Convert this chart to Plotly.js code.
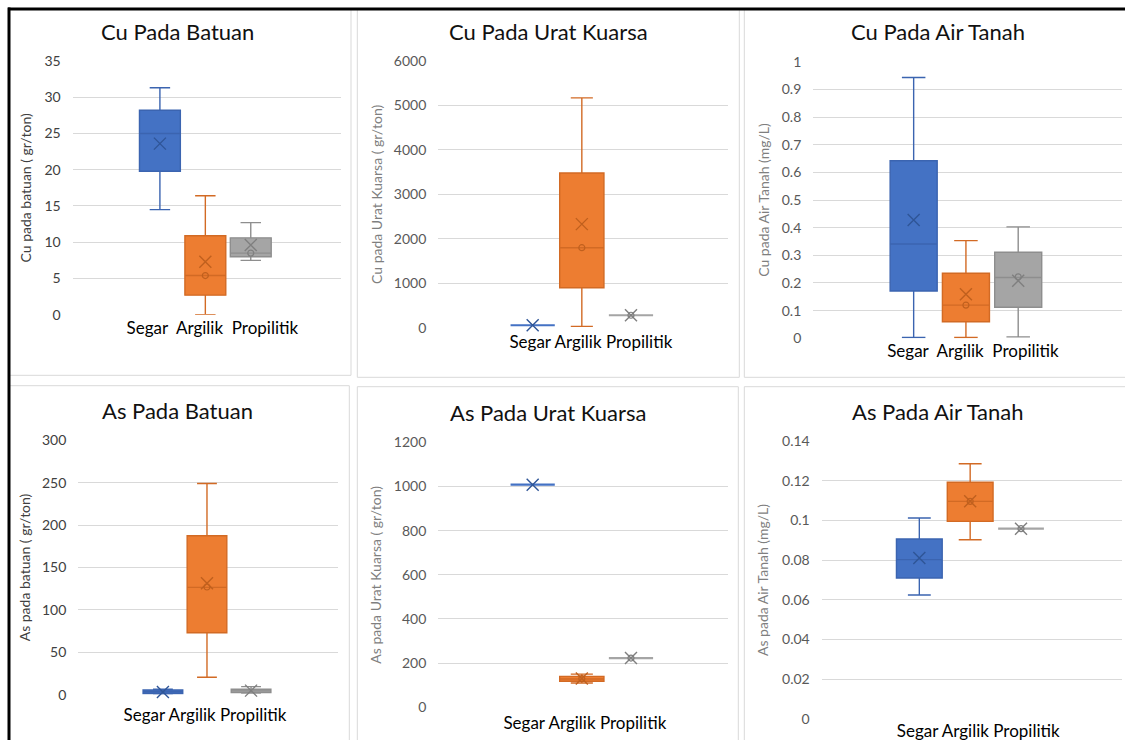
<!DOCTYPE html>
<html>
<head>
<meta charset="utf-8">
<script src="https://cdn.plot.ly/plotly-3.0.1.min.js"></script>
<style>
html, body { margin: 0; padding: 0; background: #ffffff; }
#chart { width: 1125px; height: 740px; }
</style>
</head>
<body>
<div id="chart"></div>
<script>
// ---------------- DATA ----------------
const categories = ['Segar', 'Argilik', 'Propilitik'];

const panelTitles = ['Cu Pada Batuan', 'Cu Pada Urat Kuarsa', 'Cu Pada Air Tanah',
                     'As Pada Batuan', 'As Pada Urat Kuarsa', 'As Pada Air Tanah'];
const yAxisTitles = ['Cu pada batuan ( gr/ton)', 'Cu pada Urat Kuarsa ( gr/ton)', 'Cu pada Air Tanah (mg/L)',
                     'As pada batuan ( gr/ton)', 'As pada Urat Kuarsa ( gr/ton)', 'As pada Air Tanah (mg/L)'];
const xTickLabels = ['Segar\u00a0\u00a0Argilik\u00a0\u00a0Propilitik', 'Segar Argilik Propilitik',
                     'Segar\u00a0\u00a0Argilik\u00a0\u00a0Propilitik', 'Segar Argilik Propilitik',
                     'Segar Argilik Propilitik', 'Segar Argilik Propilitik'];

// Cu Pada Batuan (gr/ton)
const cuBatuanLower  = [14.5, 0.0, 7.5];
const cuBatuanQ1     = [19.8, 2.7, 8.0];
const cuBatuanMedian = [25.0, 5.4, 8.5];
const cuBatuanQ3     = [28.2, 10.9, 10.6];
const cuBatuanUpper  = [31.3, 16.4, 12.7];
const cuBatuanMean   = [23.6, 7.3, 9.6];
const cuBatuanPoints = [null, 5.4, 8.5];

// Cu Pada Urat Kuarsa (gr/ton)
const cuUratLower  = [55, 30, 280];
const cuUratQ1     = [55, 900, 280];
const cuUratMedian = [55, 1800, 280];
const cuUratQ3     = [55, 3480, 280];
const cuUratUpper  = [55, 5170, 280];
const cuUratMean   = [55, 2330, 280];
const cuUratPoints = [null, 1800, 280];

// Cu Pada Air Tanah (mg/L)
const cuAirLower  = [0.003, 0.003, 0.005];
const cuAirQ1     = [0.171, 0.060, 0.112];
const cuAirMedian = [0.341, 0.120, 0.220];
const cuAirQ3     = [0.642, 0.235, 0.311];
const cuAirUpper  = [0.943, 0.353, 0.403];
const cuAirMean   = [0.428, 0.159, 0.208];
const cuAirPoints = [null, 0.120, 0.222];

// As Pada Batuan (gr/ton)
const asBatuanLower  = [1.0, 20.5, 2.0];
const asBatuanQ1     = [1.5, 73.0, 2.5];
const asBatuanMedian = [3.5, 126.6, 4.5];
const asBatuanQ3     = [5.5, 187.5, 6.5];
const asBatuanUpper  = [6.5, 249.0, 9.5];
const asBatuanMean   = [3.3, 131.5, 4.8];
const asBatuanPoints = [null, 127.0, null];

// As Pada Urat Kuarsa (gr/ton)
const asUratLower  = [1008, 110, 223];
const asUratQ1     = [1008, 118, 223];
const asUratMedian = [1008, 128, 223];
const asUratQ3     = [1008, 140, 223];
const asUratUpper  = [1008, 150, 223];
const asUratMean   = [1008, 130, 223];
const asUratPoints = [null, 130, 223];

// As Pada Air Tanah (mg/L)
const asAirLower  = [0.0624, 0.0903, 0.0959];
const asAirQ1     = [0.0710, 0.0996, 0.0959];
const asAirMedian = [0.0803, 0.1097, 0.0959];
const asAirQ3     = [0.0907, 0.1193, 0.0959];
const asAirUpper  = [0.1013, 0.1287, 0.0959];
const asAirMean   = [0.0811, 0.1097, 0.0959];
const asAirPoints = [null, 0.1097, 0.0959];

const yRanges = [[0, 35], [0, 6000], [0, 1], [0, 300], [0, 1200], [0, 0.14]];
const yDticks = [5, 1000, 0.1, 50, 200, 0.02];

// ---------------- STYLE / LAYOUT ----------------
const FONT = 'Lato, "Open Sans", sans-serif';
const fillColors = ['#4472C4', '#ED7D31', '#A5A5A5'];
const lineColors = ['#3B64B0', '#D26A24', '#8E8E8E'];
const markColors = ['#2F5597', '#C0601E', '#7F7F7F'];

const W = 1125, H = 740;
const fx = p => p / W;
const fy = p => 1 - p / H;

// pixel geometry of each panel (plot area, title, frame)
const geo = [
  { pl: 72.7, pr: 340.7, pt: 61.0, pb: 314.7, tx: 178, ty: 31.5, frame: [9, 9, 351, 375.3], tickCol: '#404040', ytCol: '#404040', shift: 7, stand: 1, ysf: 9 },
  { pl: 438.3, pr: 728.3, pt: 61.0, pb: 327.7, tx: 548, ty: 31.5, frame: [357.3, 9, 739.3, 377.3], tickCol: '#595959', ytCol: '#7F7F7F', shift: 9, stand: 2, ysf: 7 },
  { pl: 813.3, pr: 1121.7, pt: 61.7, pb: 338.3, tx: 938, ty: 31.5, frame: [744.3, 9, 1135, 377.3], tickCol: '#595959', ytCol: '#7F7F7F', shift: 7, stand: 1, ysf: 8 },
  { pl: 78.3, pr: 338.3, pt: 440.3, pb: 694.7, tx: 177, ty: 410, frame: [9, 385.7, 349.3, 750], tickCol: '#404040', ytCol: '#404040', shift: -2, stand: 8, ysf: 8 },
  { pl: 438.3, pr: 728.3, pt: 442.3, pb: 707.3, tx: 548, ty: 412.5, frame: [357.3, 386.7, 738.3, 750], tickCol: '#595959', ytCol: '#7F7F7F', shift: 3, stand: 4, ysf: 8 },
  { pl: 821.7, pr: 1121.7, pt: 441.3, pb: 718.7, tx: 938, ty: 411.5, frame: [744.3, 386.7, 1135, 750], tickCol: '#595959', ytCol: '#7F7F7F', shift: 8, stand: 0, ysf: 10 }
];

const stats = [
  [cuBatuanLower, cuBatuanQ1, cuBatuanMedian, cuBatuanQ3, cuBatuanUpper, cuBatuanMean, cuBatuanPoints],
  [cuUratLower, cuUratQ1, cuUratMedian, cuUratQ3, cuUratUpper, cuUratMean, cuUratPoints],
  [cuAirLower, cuAirQ1, cuAirMedian, cuAirQ3, cuAirUpper, cuAirMean, cuAirPoints],
  [asBatuanLower, asBatuanQ1, asBatuanMedian, asBatuanQ3, asBatuanUpper, asBatuanMean, asBatuanPoints],
  [asUratLower, asUratQ1, asUratMedian, asUratQ3, asUratUpper, asUratMean, asUratPoints],
  [asAirLower, asAirQ1, asAirMedian, asAirQ3, asAirUpper, asAirMean, asAirPoints]
];

const traces = [];
const layout = {
  width: W, height: H,
  margin: { l: 0, r: 0, t: 0, b: 0 },
  paper_bgcolor: '#ffffff',
  plot_bgcolor: '#ffffff',
  showlegend: false,
  boxmode: 'overlay',
  boxgap: 0.1,
  boxgroupgap: 0,
  font: { family: FONT },
  annotations: [],
  shapes: []
};

geo.forEach((g, i) => {
  const s = i === 0 ? '' : String(i + 1);
  const [lo, q1, med, q3, up, mean, pts] = stats[i];
  categories.forEach((c, j) => {
    const flat = q1[j] === q3[j];
    traces.push({
      type: 'box', name: c,
      x: [c], lowerfence: [lo[j]], q1: [q1[j]], median: [med[j]], q3: [q3[j]], upperfence: [up[j]],
      boxpoints: false, width: 0.9, whiskerwidth: 0.5,
      fillcolor: fillColors[j], line: { color: flat ? fillColors[j] : lineColors[j], width: flat ? 2.2 : 1.4 },
      xaxis: 'x' + s, yaxis: 'y' + s, hoverinfo: 'y'
    });
  });
  traces.push({
    type: 'scatter', mode: 'markers', x: categories, y: mean,
    marker: { symbol: 'x-thin-open', size: 12, color: markColors, line: { width: 1.4, color: markColors } },
    xaxis: 'x' + s, yaxis: 'y' + s, cliponaxis: false, hoverinfo: 'y'
  });
  traces.push({
    type: 'scatter', mode: 'markers', x: categories, y: pts,
    marker: { symbol: 'circle-open', size: 6, color: markColors, line: { width: 1.2, color: markColors } },
    xaxis: 'x' + s, yaxis: 'y' + s, cliponaxis: false, hoverinfo: 'y'
  });

  layout['xaxis' + s] = {
    domain: [fx(g.pl), fx(g.pr)], anchor: 'y' + s,
    type: 'category', categoryorder: 'array', categoryarray: categories,
    range: [-1.92, 3.98], showgrid: false, zeroline: false, showline: false, ticks: '',
    tickmode: 'array', tickvals: ['Argilik'], ticktext: [xTickLabels[i]],
    ticklabelshift: g.shift, ticklabelstandoff: g.stand,
    tickfont: { family: FONT, size: 17, color: '#000000' }, fixedrange: true
  };
  layout['yaxis' + s] = {
    domain: [fy(g.pb), fy(g.pt)], anchor: 'x' + s,
    range: yRanges[i], dtick: yDticks[i], tick0: 0,
    showgrid: true, gridcolor: '#D9D9D9', gridwidth: 1, zeroline: false, showline: false, ticks: '',
    ticklabelstandoff: 11,
    tickfont: { family: FONT, size: 14, color: g.tickCol },
    title: { text: yAxisTitles[i], font: { family: FONT, size: 14, color: g.ytCol }, standoff: g.ysf },
    fixedrange: true
  };
  layout.annotations.push({
    xref: 'paper', yref: 'paper', x: fx(g.tx), y: fy(g.ty), xanchor: 'center', yanchor: 'middle',
    text: panelTitles[i], showarrow: false, font: { family: FONT, size: 22, color: '#111111' }
  });
  layout.shapes.push({
    type: 'rect', xref: 'paper', yref: 'paper', layer: 'below',
    x0: fx(g.frame[0]), y0: fy(g.frame[3]), x1: fx(g.frame[2]), y1: fy(g.frame[1]),
    line: { color: '#D9D9D9', width: 1 }, fillcolor: 'rgba(0,0,0,0)'
  });
});

// black outline along the top and left edge of the picture
layout.shapes.push({ type: 'line', xref: 'paper', yref: 'paper', x0: fx(8), x1: fx(1125), y0: fy(9), y1: fy(9), line: { color: '#000000', width: 3 } });
layout.shapes.push({ type: 'line', xref: 'paper', yref: 'paper', x0: fx(9), x1: fx(9), y0: fy(7.5), y1: fy(745), line: { color: '#000000', width: 3 } });

Plotly.newPlot('chart', traces, layout, { displayModeBar: false, staticPlot: true });
</script>
</body>
</html>
